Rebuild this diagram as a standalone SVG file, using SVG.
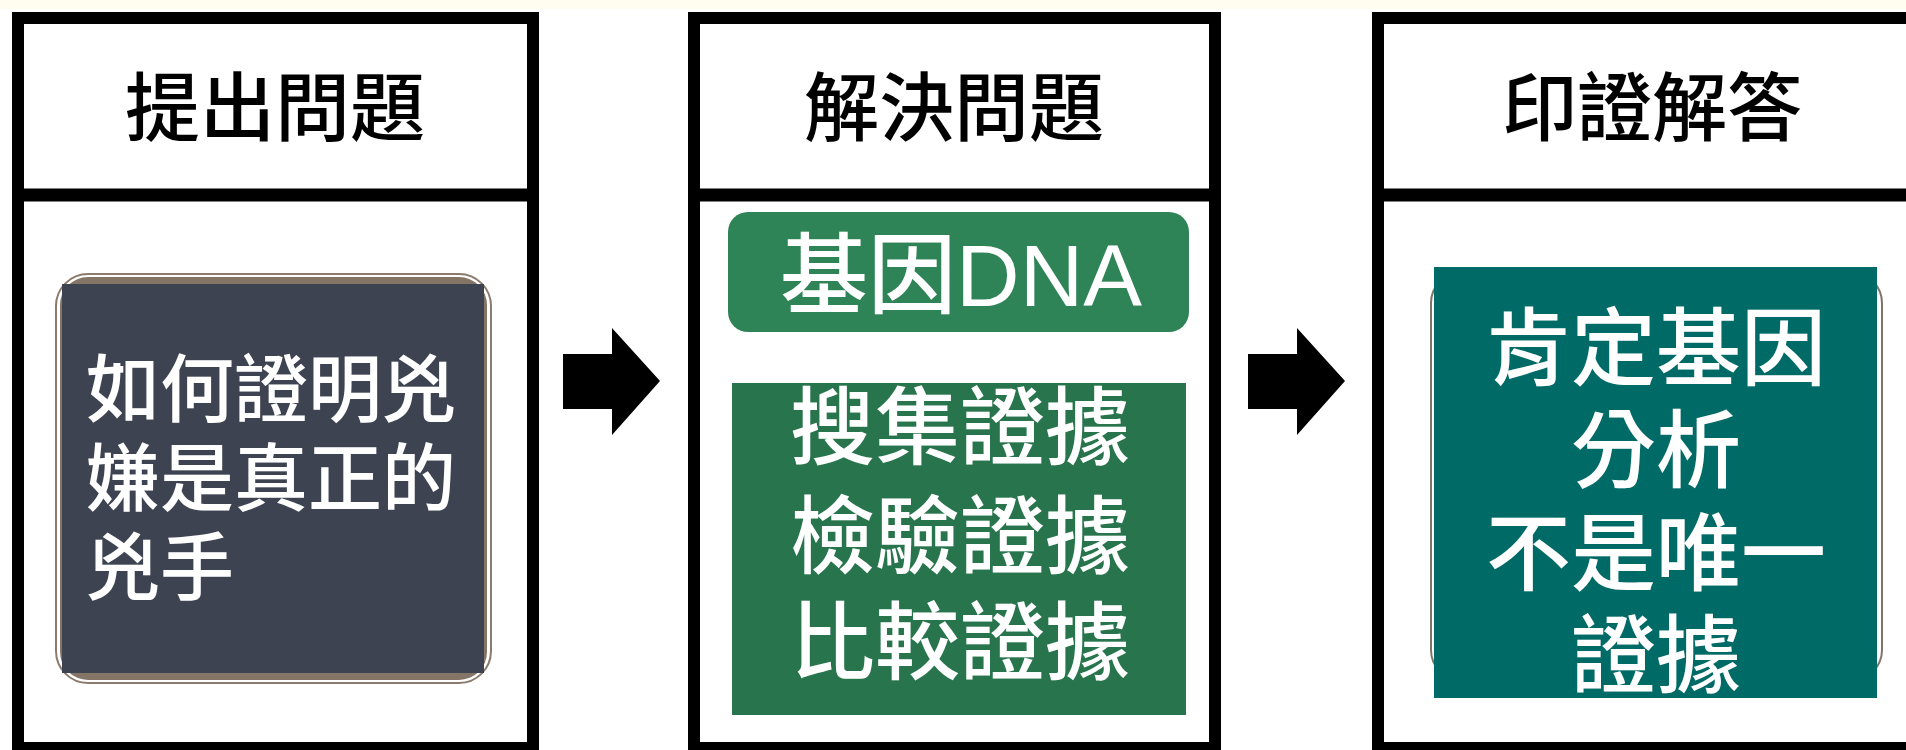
<svg xmlns="http://www.w3.org/2000/svg" width="1906" height="750" viewBox="0 0 1906 750">
<style>
.frame{fill:#ffffff;stroke:#000000;stroke-width:12}
.div{stroke:#000000;stroke-width:13}
.hdr{font-family:"Noto Sans CJK TC","Noto Sans CJK SC",sans-serif;font-size:75px;font-weight:500;fill:#000000;text-anchor:middle}
.wt{font-family:"Liberation Sans","Noto Sans CJK TC","Noto Sans CJK SC",sans-serif;font-weight:500;fill:#ffffff}
.arrow{fill:#000000}
</style>
<rect x="0" y="0" width="1906" height="750" fill="#ffffff"/>
<rect x="0" y="0" width="1906" height="9" fill="#fffdf0"/>
<g id="frame1">
<rect class="frame" x="18" y="18" width="515" height="730"/>
<line class="div" x1="12" y1="195" x2="539" y2="195"/>
<text class="hdr" x="275" y="135">提出問題</text>
</g>
<g id="frame2">
<rect class="frame" x="694" y="18" width="521" height="730"/>
<line class="div" x1="688" y1="195" x2="1221" y2="195"/>
<text class="hdr" x="954" y="135">解決問題</text>
</g>
<g id="frame3">
<rect class="frame" x="1378" y="18" width="560" height="730"/>
<line class="div" x1="1372" y1="195" x2="1906" y2="195"/>
<text class="hdr" x="1652" y="135">印證解答</text>
</g>
<g id="node-question">
<rect x="56" y="274" width="435" height="409" rx="32" fill="#ffffff" stroke="#8b7b6c" stroke-width="2"/>
<rect x="60" y="277" width="427" height="403" rx="28" fill="#857566"/>
<rect x="62" y="284" width="422" height="389" fill="#3d4350"/>
<text class="wt" font-size="74" x="86" y="416">如何證明兇</text>
<text class="wt" font-size="74" x="86" y="505">嫌是真正的</text>
<text class="wt" font-size="74" x="86" y="594">兇手</text>
</g>
<g id="node-dna">
<rect x="728" y="212" width="461" height="120" rx="20" fill="#2e8457"/>
<text class="wt" font-size="88" x="961" y="306" text-anchor="middle">基因DNA</text>
</g>
<g id="node-evidence">
<rect x="732" y="383" width="454" height="332" fill="#27744d"/>
<text class="wt" font-size="85" x="960" y="458" text-anchor="middle">搜集證據</text>
<text class="wt" font-size="85" x="960" y="567" text-anchor="middle">檢驗證據</text>
<text class="wt" font-size="85" x="960" y="673" text-anchor="middle">比較證據</text>
</g>
<g id="node-verify">
<rect x="1431" y="273" width="451" height="407" rx="30" fill="#ffffff" stroke="#7f7468" stroke-width="2"/>
<rect x="1434" y="267" width="443" height="431" fill="#006a66"/>
<text class="wt" font-size="85" x="1656" y="379" text-anchor="middle">肯定基因</text>
<text class="wt" font-size="85" x="1656" y="481" text-anchor="middle">分析</text>
<text class="wt" font-size="85" x="1656" y="584" text-anchor="middle">不是唯一</text>
<text class="wt" font-size="85" x="1656" y="686" text-anchor="middle">證據</text>
</g>
<g id="connectors">
<polygon class="arrow" points="563,354 612,354 612,328 660,381 612,435 612,409 563,409"/>
<polygon class="arrow" points="1248,354 1297,354 1297,328 1345,381 1297,435 1297,409 1248,409"/>
</g>
</svg>
